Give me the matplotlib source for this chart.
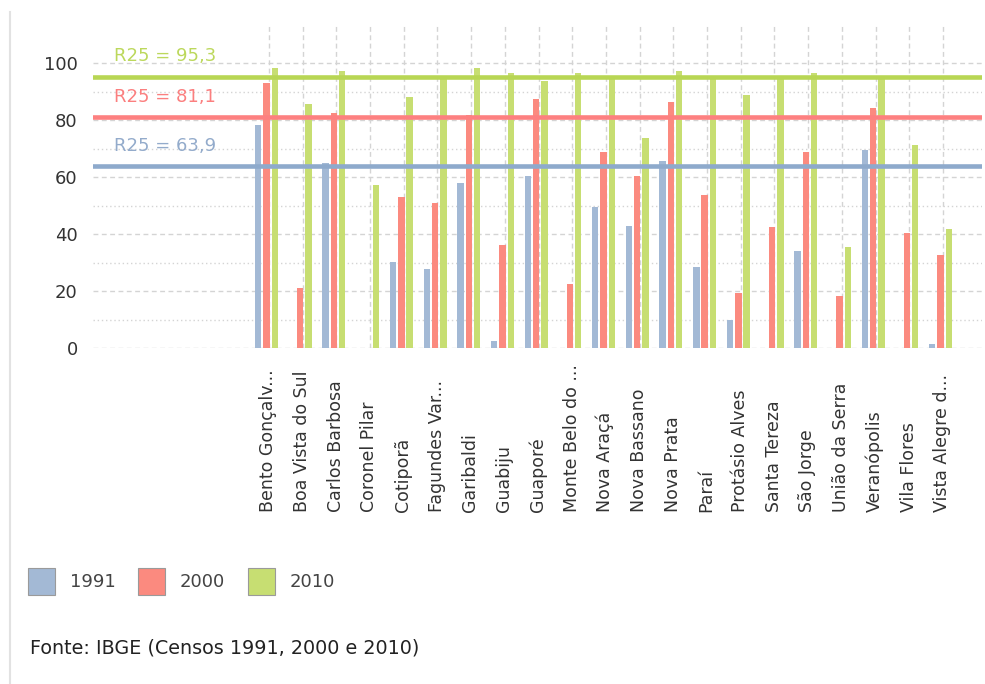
import numpy as np
import matplotlib
matplotlib.use("Agg")
from matplotlib import pyplot as plt
from matplotlib.transforms import blended_transform_factory
from matplotlib.patches import Rectangle
from matplotlib.lines import Line2D

plt.rcParams['font.family'] = ['DejaVu Sans']

cities = ["Bento Gonçalv...", "Boa Vista do Sul", "Carlos Barbosa", "Coronel Pilar",
          "Cotiporã", "Fagundes Var...", "Garibaldi", "Guabiju", "Guaporé",
          "Monte Belo do ...", "Nova Araçá", "Nova Bassano", "Nova Prata", "Paraí",
          "Protásio Alves", "Santa Tereza", "São Jorge", "União da Serra",
          "Veranópolis", "Vila Flores", "Vista Alegre d..."]

v1991 = [78.4, 0, 65.1, 0, 30.3, 27.8, 57.9, 2.6, 60.5, 0, 49.5, 42.9, 65.8, 28.4,
         9.8, 0, 34.0, 0, 69.6, 0, 1.5]
v2000 = [93.0, 21.3, 82.6, 0, 53.2, 50.8, 82.0, 36.3, 87.5, 22.5, 68.8, 60.5, 86.3, 53.8,
         19.5, 42.5, 68.8, 18.4, 84.4, 40.6, 32.7]
v2010 = [98.2, 85.6, 97.1, 57.3, 88.1, 94.9, 98.2, 96.5, 93.6, 96.5, 94.9, 73.7, 97.1, 94.9,
         88.7, 94.9, 96.5, 35.7, 94.9, 71.2, 41.8]

years = ["1991", "2000", "2010"]
r25 = [63.9, 81.1, 95.3]
r25_labels = ["R25 = 63,9", "R25 = 81,1", "R25 = 95,3"]

bar_colors = ["#a3b9d5", "#fb8a7f", "#c7de72"]
line_colors = ["#8eaacc", "#fd8080", "#b8d654"]
text_colors = ["#93abcb", "#fb7f7f", "#bcd85c"]

W, H = 985, 684
fig = plt.figure(figsize=(W / 100, H / 100), dpi=100)
ax = fig.add_axes([93 / W, 1 - 348.3 / H, (982 - 93) / W, (348.3 - 25) / H])

x = np.arange(len(cities))
step = 0.247
for k, vals in enumerate([v1991, v2000, v2010]):
    ax.bar(x + (k - 1) * step, vals, width=0.19, color=bar_colors[k], linewidth=0, zorder=2)

trans = blended_transform_factory(ax.transAxes, ax.transData)
for k in range(3):
    ax.axhline(r25[k], color=line_colors[k], lw=3.3, zorder=3)
    ax.annotate(r25_labels[k], xy=(0.024, r25[k]), xycoords=trans,
                xytext=(0, 8), textcoords="offset points",
                color=text_colors[k], fontsize=13, va="bottom", ha="left")

ax.set_xlim(-5.15, 21.23)
ax.set_ylim(0, 113.4)
ax.set_yticks(np.arange(0, 101, 20))
ax.set_yticks(np.arange(10, 100, 20), minor=True)
ax.set_xticks(x + 0.07)
ax.set_xticklabels([])
ax.tick_params(axis="both", which="both", length=0)
ax.tick_params(axis="y", labelsize=13, labelcolor="#333333", pad=11)
ax.grid(axis="y", which="major", color="#d4d4d4", lw=1, dashes=(3.5, 2.5))
ax.grid(axis="y", which="minor", color="#d4d4d4", lw=1, dashes=(1, 2))
ax.grid(axis="x", which="major", color="#d4d4d4", lw=1, dashes=(3.5, 2.5))
ax.set_axisbelow(True)
for s in ax.spines.values():
    s.set_visible(False)

# category labels, read upward from a common baseline
lab_trans = blended_transform_factory(ax.transData, fig.transFigure)
for i, c in enumerate(cities):
    ax.text(i + 0.05, 1 - 512 / H, c, transform=lab_trans, rotation=90,
            ha="center", va="bottom", fontsize=12.5, color="#333333")

# legend
lx = [28, 138, 248]
for k in range(3):
    fig.add_artist(Rectangle((lx[k] / W, 1 - 595 / H), 27 / W, 27 / H,
                             transform=fig.transFigure, facecolor=bar_colors[k],
                             edgecolor="#9a9a9a", lw=0.8))
    fig.text((lx[k] + 42) / W, 1 - 582 / H, years[k], fontsize=13,
             color="#444444", va="center", ha="left")

fig.text(30 / W, 1 - 648 / H, "Fonte: IBGE (Censos 1991, 2000 e 2010)",
         fontsize=13.8, color="#222222", va="center", ha="left")

fig.add_artist(Line2D([10 / W, 10 / W], [0, 1 - 12 / H], transform=fig.transFigure,
                      color="#e2e2e2", lw=1.5))

fig.savefig("out.png", dpi=100)
